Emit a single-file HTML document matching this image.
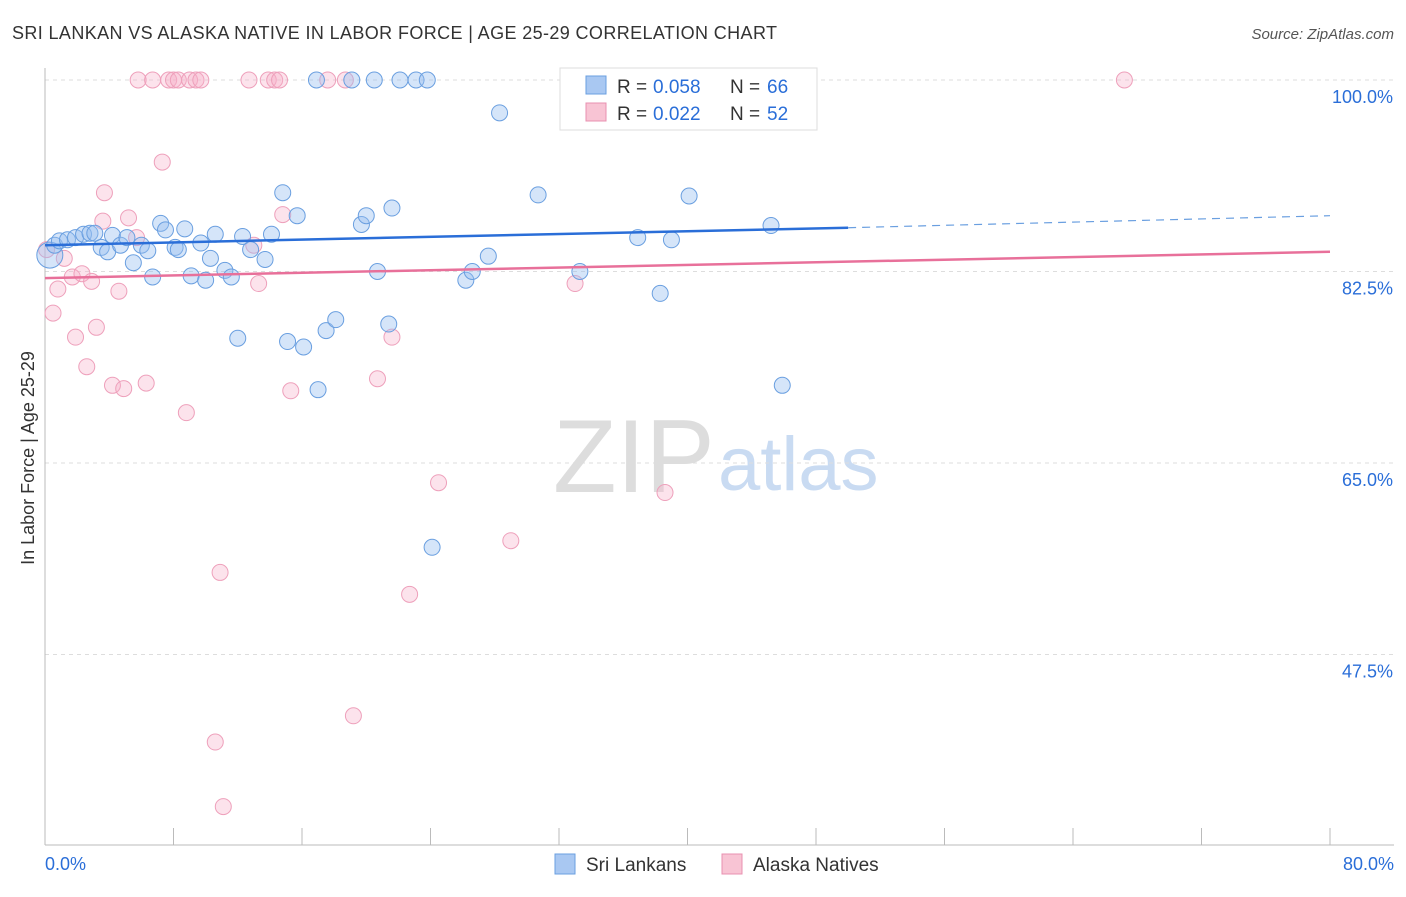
<!DOCTYPE html>
<html><head><meta charset="utf-8"><style>
body{margin:0;background:#fff;font-family:"Liberation Sans",sans-serif;}
svg text{font-family:"Liberation Sans",sans-serif;}
</style></head><body>
<svg id="chart" width="1406" height="892">
<text x="12" y="39" font-size="18" fill="#333" textLength="765">SRI LANKAN VS ALASKA NATIVE IN LABOR FORCE | AGE 25-29 CORRELATION CHART</text>
<text x="1394" y="39" font-size="15" fill="#555" font-style="italic" text-anchor="end">Source: ZipAtlas.com</text>
<text x="34" y="458" font-size="18" fill="#333" text-anchor="middle" transform="rotate(-90 34 458)">In Labor Force | Age 25-29</text>
<text x="553" y="492" font-size="104" fill="#ddd" font-family="Liberation Serif">ZIP</text>
<text x="718" y="490" font-size="76" fill="#c9dbf2">atlas</text>
<g id="grid"></g><g id="pts"></g><g id="lines"></g>
<g>
<rect x="560" y="68" width="257" height="62" fill="#fff" stroke="#ddd"/>
<rect x="586" y="76" width="20" height="18" fill="#a9c8f2" stroke="#6a9fe0"/>
<rect x="586" y="103" width="20" height="18" fill="#f8c4d4" stroke="#e890b0"/>
<text y="93" font-size="19" fill="#333"><tspan x="617">R =</tspan><tspan x="653" fill="#2a6ed8">0.058</tspan><tspan x="730">N =</tspan><tspan x="767" fill="#2a6ed8">66</tspan></text>
<text y="120" font-size="19" fill="#333"><tspan x="617">R =</tspan><tspan x="653" fill="#2a6ed8">0.022</tspan><tspan x="730">N =</tspan><tspan x="767" fill="#2a6ed8">52</tspan></text>
</g>
<g>
<rect x="555" y="854" width="20" height="20" fill="#a9c8f2" stroke="#6a9fe0"/>
<text x="586" y="871" font-size="19" fill="#333">Sri Lankans</text>
<rect x="722" y="854" width="20" height="20" fill="#f8c4d4" stroke="#e890b0"/>
<text x="753" y="871" font-size="19" fill="#333">Alaska Natives</text>
</g>
</svg>
<script>
const yTicks=[100,82.5,65,47.5];
const yTickLabels=["100.0%","82.5%","65.0%","47.5%"];
const xTickLabels=["0.0%","80.0%"];
const blueX=[0.3,0.6,0.9,1.4,1.9,2.4,2.8,3.1,3.5,3.9,4.2,4.7,5.1,5.5,6.0,6.4,6.7,7.2,7.5,8.1,8.3,8.7,9.1,9.7,10.0,10.3,10.6,11.2,11.6,12.0,12.3,12.8,13.7,14.1,14.8,15.1,15.7,16.1,16.9,17.0,17.5,18.1,19.1,19.7,20.0,20.5,20.7,21.4,21.6,22.1,23.1,23.8,24.1,26.2,26.6,27.6,28.3,30.7,33.2,33.3,36.9,38.3,39.0,40.1,45.2,45.9];
const blueY=[84.0,84.9,85.3,85.4,85.6,85.9,86.0,86.0,84.7,84.3,85.8,84.9,85.6,83.3,84.9,84.4,82.0,86.9,86.3,84.7,84.5,86.4,82.1,85.1,81.7,83.7,85.9,82.6,82.0,76.4,85.7,84.5,83.6,85.9,89.7,76.1,87.6,75.6,100,71.7,77.1,78.1,100,86.8,87.6,100,82.5,77.7,88.3,100,100,100,57.3,81.7,82.5,83.9,97.0,89.5,100,82.5,85.6,80.5,85.4,89.4,86.7,72.1];
const pinkX=[0.1,0.5,0.8,1.2,1.7,1.9,2.3,2.6,2.9,3.2,3.6,3.7,4.2,4.6,4.9,5.2,5.7,5.8,6.3,6.7,7.3,7.7,8.0,8.3,8.8,9.0,9.4,9.7,10.6,10.9,11.1,12.7,13.0,13.3,13.9,14.3,14.6,14.8,15.3,17.6,18.7,19.2,20.7,21.6,22.7,24.5,29.0,33.0,38.6,45.0,67.2];
const pinkY=[84.5,78.7,80.9,83.7,82.0,76.5,82.3,73.8,81.6,77.4,87.1,89.7,72.1,80.7,71.8,87.4,85.6,100,72.3,100,92.5,100,100,100,69.6,100,100,100,39.5,55.0,33.6,100,84.9,81.4,100,100,100,87.7,71.6,100,100,41.9,72.7,76.5,53.0,63.2,57.9,81.4,62.3,100,100];
const blueTrend=[84.9,86.5,87.6]; // at x=0, 50, 80
const pinkTrend=[81.9,84.3]; // at x=0, 80
const NS="http://www.w3.org/2000/svg";
const sx=v=>45+v*16.0625, sy=v=>80+(100-v)*10.943;
function mk(p,t,a){const e=document.createElementNS(NS,t);for(const k in a)e.setAttribute(k,a[k]);p.appendChild(e);return e;}
const g=document.getElementById('grid');
yTicks.forEach((t,i)=>{
 const l=mk(g,'line',{x1:45,x2:1394,y1:sy(t),y2:sy(t),stroke:'#ddd','stroke-dasharray':'4,4'});
 
 
 const tx=mk(g,'text',{x:1393,y:sy(t)+23,'font-size':18,fill:'#2a6ed8','text-anchor':'end'});
 tx.textContent=yTickLabels[i];
 
 
});
mk(g,'line',{x1:45,x2:45,y1:68,y2:845,stroke:'#bbb'});
mk(g,'line',{x1:45,x2:1394,y1:845,y2:845,stroke:'#bbb'});
for(let i=0;i<=10;i++){const x=sx(i*8);mk(g,'line',{x1:x,x2:x,y1:828,y2:845,stroke:'#bbb'});}
[[0,'start',45],[80,'end',1394]].forEach((d,i)=>{const t=mk(g,'text',{x:d[2],y:870,'font-size':18,fill:'#2a6ed8','text-anchor':d[1]});t.textContent=xTickLabels[i];
 
 });
const p=document.getElementById('pts');
pinkX.forEach((x,i)=>{const c=mk(p,'circle',{cx:sx(x),cy:sy(pinkY[i]),r:8,fill:'rgba(246,176,200,0.35)',stroke:'#eea0bb','stroke-width':1});
 
 });
blueX.forEach((x,i)=>{const c=mk(p,'circle',{cx:sx(x),cy:sy(blueY[i]),r:i==0?13:8,fill:'rgba(150,190,240,0.4)',stroke:'#6a9fe0','stroke-width':1});
 
 });
const L=document.getElementById('lines');
const b1=mk(L,'line',{x1:sx(0),y1:sy(blueTrend[0]),x2:sx(50),y2:sy(blueTrend[1]),stroke:'#2a6ed8','stroke-width':2.5});


const b2=mk(L,'line',{x1:sx(50),y1:sy(blueTrend[1]),x2:sx(80),y2:sy(blueTrend[2]),stroke:'#6a9fe0','stroke-width':1.2,'stroke-dasharray':'8,6'});


const p1=mk(L,'line',{x1:sx(0),y1:sy(pinkTrend[0]),x2:sx(80),y2:sy(pinkTrend[1]),stroke:'#e8709a','stroke-width':2.5});


</script>
</body></html>
